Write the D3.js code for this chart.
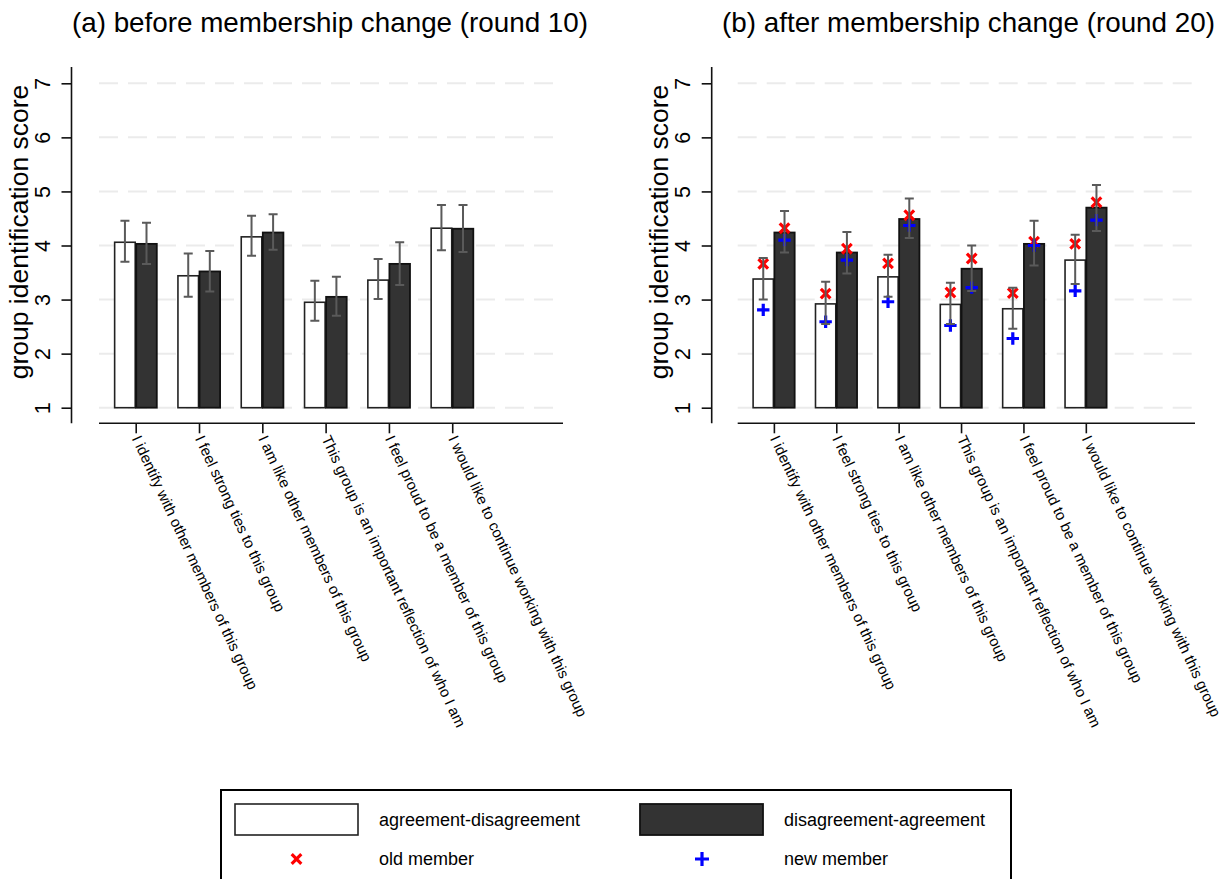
<!DOCTYPE html>
<html>
<head>
<meta charset="utf-8">
<script src="https://cdn.jsdelivr.net/npm/d3@7"></script>
<style>
  html, body { margin: 0; padding: 0; background: #fff; }
  svg { display: block; font-family: "Liberation Sans", Arial, sans-serif; }
</style>
</head>
<body>
<svg id="chart" width="1230" height="879"></svg>
<script>
// ---------- data ----------
const categories = [
  "I identify with other members of this group",
  "I feel strong ties to this group",
  "I am like other members of this group",
  "This group is an important reflection of who I am",
  "I feel proud to be a member of this group",
  "I would like to continue working with this group"
];
const yTicks = [1, 2, 3, 4, 5, 6, 7];
const panelTitles = ["(a) before membership change (round 10)", "(b) after membership change (round 20)"];
const seriesNames = ["agreement-disagreement", "disagreement-agreement"];
const markerNames = ["old member", "new member"];

// (a) before: bar means and 95% CI
const beforeAD   = [4.06, 3.44, 4.16, 2.95, 3.36, 4.32];
const beforeADLo = [3.70, 3.05, 3.81, 2.61, 3.01, 3.91];
const beforeADHi = [4.46, 3.85, 4.55, 3.35, 3.75, 4.75];
const beforeDA   = [4.03, 3.52, 4.24, 3.05, 3.66, 4.31];
const beforeDALo = [3.66, 3.15, 3.92, 2.70, 3.27, 3.88];
const beforeDAHi = [4.42, 3.90, 4.58, 3.42, 4.06, 4.75];

// (b) after
const afterAD    = [3.38, 2.92, 3.42, 2.91, 2.83, 3.73];
const afterADLo  = [3.00, 2.55, 3.05, 2.55, 2.46, 3.29];
const afterADHi  = [3.77, 3.33, 3.83, 3.31, 3.22, 4.20];
const afterDA    = [4.24, 3.87, 4.49, 3.57, 4.03, 4.70];
const afterDALo  = [3.87, 3.48, 4.14, 3.16, 3.63, 4.27];
const afterDAHi  = [4.64, 4.25, 4.87, 4.00, 4.46, 5.12];
const afterADOld = [3.66, 3.11, 3.67, 3.13, 3.12, 4.03];
const afterADNew = [2.81, 2.59, 2.96, 2.52, 2.28, 3.16];
const afterDAOld = [4.32, 3.94, 4.56, 3.76, 4.07, 4.80];
const afterDANew = [4.10, 3.73, 4.37, 3.22, 4.00, 4.47];

// ---------- drawing ----------
const svg = d3.select("#chart");
const FONT = '"Liberation Sans", Arial, sans-serif';

const panels = [
  { title: panelTitles[0], axisX: 71.5, range: [99, 563], titleX: 330,
    ad: beforeAD, adLo: beforeADLo, adHi: beforeADHi,
    da: beforeDA, daLo: beforeDALo, daHi: beforeDAHi, markers: false },
  { title: panelTitles[1], axisX: 711.7, range: [737.7, 1195], titleX: 968.5,
    ad: afterAD, adLo: afterADLo, adHi: afterADHi,
    da: afterDA, daLo: afterDALo, daHi: afterDAHi, markers: true,
    adOld: afterADOld, adNew: afterADNew, daOld: afterDAOld, daNew: afterDANew }
];

const y = d3.scaleLinear().domain([1, 7]).range([407.7, 83.3]);
const axisBottomY = 423.3;

function drawX(g, cx, cy, r, color, w) {
  g.append("path")
    .attr("d", `M${cx - r},${cy - r}L${cx + r},${cy + r}M${cx - r},${cy + r}L${cx + r},${cy - r}`)
    .attr("stroke", color).attr("stroke-width", w).attr("fill", "none");
}
function drawPlus(g, cx, cy, r, color, w) {
  g.append("path")
    .attr("d", `M${cx - r},${cy}L${cx + r},${cy}M${cx},${cy - r}L${cx},${cy + r}`)
    .attr("stroke", color).attr("stroke-width", w).attr("fill", "none");
}

panels.forEach(p => {
  const g = svg.append("g");
  const x = d3.scaleLinear().domain([0.42, 7.75]).range(p.range);
  const step = x(2) - x(1);
  const bw = step * 0.325;

  // title
  g.append("text")
    .attr("x", p.titleX).attr("y", 32)
    .attr("text-anchor", "middle").attr("font-size", 27.8).attr("fill", "#000")
    .text(p.title);

  // gridlines
  g.selectAll(".grid").data(yTicks).enter().append("line")
    .attr("x1", p.range[0]).attr("x2", p.range[1])
    .attr("y1", d => y(d)).attr("y2", d => y(d))
    .attr("stroke", "#ebebeb").attr("stroke-width", 2)
    .attr("stroke-dasharray", "19,10");

  // y axis
  const yAxis = d3.axisLeft(y).tickValues(yTicks).tickSize(10).tickFormat(d3.format("d"));
  const ya = g.append("g").attr("transform", `translate(${p.axisX},0)`).call(yAxis);
  ya.select(".domain").attr("d", `M0,67V${axisBottomY}`).attr("stroke", "#111").attr("stroke-width", 1.6);
  ya.selectAll(".tick line").attr("stroke", "#111").attr("stroke-width", 1.6);
  ya.selectAll(".tick text")
    .attr("x", null).attr("dy", null)
    .attr("transform", `translate(${-21.5},0) rotate(-90)`)
    .attr("text-anchor", "middle")
    .attr("font-size", 21.5).attr("font-family", FONT).attr("fill", "#000");

  // y label
  g.append("text")
    .attr("transform", `translate(${p.axisX - 43.5},232) rotate(-90)`)
    .attr("text-anchor", "middle").attr("font-size", 26.5).attr("fill", "#000")
    .text("group identification score");

  // x axis
  const xAxis = d3.axisBottom(x).tickValues(d3.range(1, categories.length + 1))
    .tickSize(10).tickFormat(d => categories[d - 1]);
  const xa = g.append("g").attr("transform", `translate(0,${axisBottomY})`).call(xAxis);
  xa.select(".domain").attr("d", `M${p.range[0]},0H${p.range[1]}`).attr("stroke", "#111").attr("stroke-width", 1.6);
  xa.selectAll(".tick line").attr("stroke", "#111").attr("stroke-width", 1.6);
  xa.selectAll(".tick text")
    .attr("y", null).attr("dy", null)
    .attr("transform", "translate(0,13) rotate(65)")
    .attr("dy", "0.35em")
    .attr("text-anchor", "start")
    .attr("font-size", 15).attr("font-family", FONT).attr("fill", "#000");

  // bars
  const idx = d3.range(categories.length);
  g.selectAll(".barAD").data(idx).enter().append("rect")
    .attr("x", i => x(i + 1) - 0.5 - bw).attr("width", bw)
    .attr("y", i => y(p.ad[i])).attr("height", i => y(1) - y(p.ad[i]))
    .attr("fill", "#fff").attr("stroke", "#222").attr("stroke-width", 1.6);
  g.selectAll(".barDA").data(idx).enter().append("rect")
    .attr("x", i => x(i + 1) + 0.5).attr("width", bw)
    .attr("y", i => y(p.da[i])).attr("height", i => y(1) - y(p.da[i]))
    .attr("fill", "#333333").attr("stroke", "#111").attr("stroke-width", 1.8);

  // markers
  if (p.markers) {
    idx.forEach(i => {
      const cAD = x(i + 1) - 0.5 - bw / 2;
      const cDA = x(i + 1) + 0.5 + bw / 2;
      drawX(g, cAD, y(p.adOld[i]), 4.8, "#ff0000", 3.2);
      drawX(g, cDA, y(p.daOld[i]), 4.8, "#ff0000", 3.2);
      drawPlus(g, cAD, y(p.adNew[i]), 6.2, "#0000ff", 3.2);
      drawPlus(g, cDA, y(p.daNew[i]), 6.2, "#0000ff", 3.2);
    });
  }

  // error bars
  const cap = 4.5;
  const eb = [
    { c: i => x(i + 1) - 0.5 - bw / 2, lo: p.adLo, hi: p.adHi },
    { c: i => x(i + 1) + 0.5 + bw / 2, lo: p.daLo, hi: p.daHi }
  ];
  eb.forEach(s => {
    idx.forEach(i => {
      const cx = s.c(i), y0 = y(s.lo[i]), y1 = y(s.hi[i]);
      g.append("path")
        .attr("d", `M${cx},${y0}V${y1}M${cx - cap},${y0}H${cx + cap}M${cx - cap},${y1}H${cx + cap}`)
        .attr("stroke", "#5a5a5a").attr("stroke-width", 2).attr("fill", "none");
    });
  });
});

// ---------- legend ----------
const lg = svg.append("g");
lg.append("rect").attr("x", 221).attr("y", 790).attr("width", 790).attr("height", 120)
  .attr("fill", "#fff").attr("stroke", "#000").attr("stroke-width", 2);
lg.append("rect").attr("x", 235).attr("y", 804).attr("width", 123).attr("height", 31)
  .attr("fill", "#fff").attr("stroke", "#222").attr("stroke-width", 1.6);
lg.append("rect").attr("x", 640).attr("y", 804).attr("width", 123).attr("height", 31)
  .attr("fill", "#333333").attr("stroke", "#111").attr("stroke-width", 1.8);
lg.append("text").attr("x", 379).attr("y", 820).attr("dy", "0.35em")
  .attr("font-size", 18).attr("fill", "#000").text(seriesNames[0]);
lg.append("text").attr("x", 784).attr("y", 820).attr("dy", "0.35em")
  .attr("font-size", 18).attr("fill", "#000").text(seriesNames[1]);
drawX(lg, 296.5, 859, 4.8, "#ff0000", 3.2);
drawPlus(lg, 702, 859, 7, "#0000ff", 3.2);
lg.append("text").attr("x", 379).attr("y", 859).attr("dy", "0.35em")
  .attr("font-size", 18).attr("fill", "#000").text(markerNames[0]);
lg.append("text").attr("x", 784).attr("y", 859).attr("dy", "0.35em")
  .attr("font-size", 18).attr("fill", "#000").text(markerNames[1]);
</script>
</body>
</html>
